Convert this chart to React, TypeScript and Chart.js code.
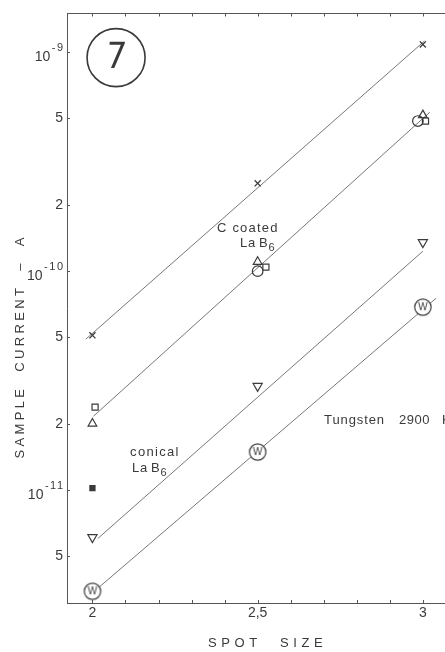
import React, { useEffect, useRef } from "react";
import { Chart, registerables } from "chart.js";

Chart.register(...registerables);

// ---- data ----
const spotSizes = [2, 2.5, 3];
const crossValues = [5.08e-11, 2.51e-10, 1.08e-9];
const coatedTriangleValues = [2.01e-11, 1.1e-10, 5.14e-10];
const coatedCircleX = [2.5, 2.985];
const coatedCircleValues = [9.97e-11, 4.83e-10];
const coatedSquareX = [2.008, 2.525, 3.008];
const coatedSquareValues = [2.39e-11, 1.04e-10, 4.83e-10];
const filledSquareX = [2];
const filledSquareValues = [1.02e-11];
const conicalValues = [6.08e-12, 2.98e-11, 1.35e-10];
const tungstenValues = [3.45e-12, 1.49e-11, 6.83e-11];

// fitted lines (end points)
const crossFitX = [1.98, 3.005];
const crossFitY = [4.88e-11, 1.12e-9];
const coatedFitX = [2.003, 3.021];
const coatedFitY = [2.17e-11, 5.3e-10];
const conicalFitX = [2.016, 3.0];
const conicalFitY = [6.0e-12, 1.23e-10];
const tungstenFitX = [2.02, 3.04];
const tungstenFitY = [3.6e-12, 7.5e-11];

// axes
const xMin = 1.923;
const xMax = 3.067;
const yMin = 3.05e-12;
const yMax = 1.503e-9;
const xMinorTicks = [2.0, 2.1, 2.2, 2.3, 2.4, 2.5, 2.6, 2.7, 2.8, 2.9, 3.0];
const xLabelTicks = [2, 2.5, 3];
const xLabelText = ["2", "2,5", "3"];
const yTickValues = [1e-9, 5e-10, 2e-10, 1e-10, 5e-11, 2e-11, 1e-11, 5e-12];
const yTickMantissa = ["10", "5", "2", "10", "5", "2", "10", "5"];
const yTickExponent = ["-9", "", "", "-10", "", "", "-11", ""];

// annotations (data coordinates)
const figureNumber = "7";
const figureNumberAt = [2.0715, 9.4e-10];
const coatedLabelAt = [2.377, 1.567e-10];
const coatedSubLabelAt = [2.4466, 1.338e-10];
const conicalLabelAt = [2.114, 1.486e-11];
const conicalSubLabelAt = [2.12, 1.256e-11];
const tungstenLabelAt = [2.701, 2.085e-11];
const xTitle = ["SPOT", "SIZE"];
const yTitle = "SAMPLE  CURRENT  \u2013  A";

const INK = "#3a3a3a";
const LINE = "#777777";
const AXIS = "#555555";
const FONT = "'Liberation Sans', Arial, Helvetica, sans-serif";

function pts(xs: number[], ys: number[]) {
  return xs.map((x, i) => ({ x, y: ys[i] }));
}

function makeWMarker(): HTMLCanvasElement {
  const c = document.createElement("canvas");
  c.width = 20;
  c.height = 20;
  const g = c.getContext("2d")!;
  g.fillStyle = "#ffffff";
  g.strokeStyle = INK;
  g.lineWidth = 1.2;
  g.beginPath();
  g.arc(10, 10, 8.2, 0, Math.PI * 2);
  g.fill();
  g.stroke();
  g.fillStyle = INK;
  g.font = `10px ${FONT}`;
  g.textAlign = "center";
  g.textBaseline = "middle";
  g.fillText("W", 10, 10.5);
  return c;
}

function spacedText(ctx: CanvasRenderingContext2D, text: string, x: number, y: number, spacing: number) {
  (ctx as any).letterSpacing = `${spacing}px`;
  ctx.fillText(text, x, y);
  (ctx as any).letterSpacing = "0px";
}

const decorations = {
  id: "decorations",
  afterDraw(chart: any) {
    const { ctx, chartArea: a, scales } = chart;
    const xs = scales.x;
    const ys = scales.y;
    ctx.save();
    ctx.strokeStyle = AXIS;
    ctx.lineWidth = 1;
    ctx.beginPath();
    ctx.moveTo(a.left, a.top + 0.5);
    ctx.lineTo(a.right, a.top + 0.5);
    for (const v of xMinorTicks) {
      const px = Math.round(xs.getPixelForValue(v)) + 0.5;
      ctx.moveTo(px, a.bottom);
      ctx.lineTo(px, a.bottom - 3);
      ctx.moveTo(px, a.top);
      ctx.lineTo(px, a.top + 3.5);
    }
    for (const v of yTickValues) {
      const py = Math.round(ys.getPixelForValue(v)) + 0.5;
      ctx.moveTo(a.left, py);
      ctx.lineTo(a.left + 3, py);
    }
    ctx.stroke();

    // y tick labels
    ctx.fillStyle = INK;
    ctx.textBaseline = "middle";
    ctx.textAlign = "right";
    yTickValues.forEach((v, i) => {
      const py = ys.getPixelForValue(v);
      const exp = yTickExponent[i];
      if (exp) {
        ctx.font = `11px ${FONT}`;
        (ctx as any).letterSpacing = "1.5px";
        const ew = ctx.measureText(exp).width;
        ctx.fillText(exp, a.left - 4 + 1.5, py - 4);
        (ctx as any).letterSpacing = "0px";
        ctx.font = `14px ${FONT}`;
        ctx.fillText(yTickMantissa[i], a.left - 4 - ew, py + 5);
      } else {
        ctx.font = `14px ${FONT}`;
        ctx.fillText(yTickMantissa[i], a.left - 4, py);
      }
    });

    // axis titles
    ctx.font = `13px ${FONT}`;
    ctx.textAlign = "left";
    spacedText(ctx, xTitle[0], 208, 643, 4.6);
    spacedText(ctx, xTitle[1], 280, 643, 4.6);

    ctx.save();
    ctx.translate(20, 348);
    ctx.rotate(-Math.PI / 2);
    ctx.textAlign = "center";
    ctx.font = `13px ${FONT}`;
    const plain = ctx.measureText(yTitle).width;
    const sp = (221 - plain) / (yTitle.length - 1);
    (ctx as any).letterSpacing = `${sp}px`;
    ctx.fillText(yTitle, sp / 2, 0);
    (ctx as any).letterSpacing = "0px";
    ctx.restore();

    // circled figure number
    const cx = xs.getPixelForValue(figureNumberAt[0]);
    const cy = ys.getPixelForValue(figureNumberAt[1]);
    ctx.beginPath();
    ctx.lineWidth = 1.6;
    ctx.strokeStyle = INK;
    ctx.arc(cx, cy, 29, 0, Math.PI * 2);
    ctx.stroke();
    ctx.font = `36px 'Liberation Sans Narrow', 'DejaVu Sans Condensed', ${FONT}`;
    ctx.textAlign = "center";
    ctx.textBaseline = "middle";
    ctx.save();
    ctx.translate(cx, cy + 1);
    ctx.transform(1, 0, -0.08, 1, 0, 0);
    ctx.fillText(figureNumber, 0, 0);
    ctx.restore();

    // series labels
    ctx.textAlign = "left";
    ctx.textBaseline = "middle";
    const label = (at: number[], text: string, sp: number) => {
      const px = xs.getPixelForValue(at[0]);
      const py = ys.getPixelForValue(at[1]);
      ctx.font = `13px ${FONT}`;
      spacedText(ctx, text, px, py, sp);
      return [px, py];
    };
    const sub = (at: number[]) => {
      const [px, py] = label(at, "La", 0.8);
      ctx.font = `13px ${FONT}`;
      spacedText(ctx, "B", px + 19, py, 0);
      ctx.font = `11px ${FONT}`;
      spacedText(ctx, "6", px + 28.5, py + 5, 0);
    };
    label(coatedLabelAt, "C coated", 1.2);
    sub(coatedSubLabelAt);
    label(conicalLabelAt, "conical", 1.3);
    sub(conicalSubLabelAt);
    const [tx, ty] = label(tungstenLabelAt, "Tungsten", 0.9);
    ctx.font = `13px ${FONT}`;
    spacedText(ctx, "2900", tx + 75, ty, 0.5);
    spacedText(ctx, "K", tx + 118, ty, 0);
    ctx.restore();
  },
};

export default function App() {
  const ref = useRef<HTMLCanvasElement>(null);

  useEffect(() => {
    if (!ref.current) return;
    const wMarker = makeWMarker();
    const lineDs = (xs: number[], ys: number[]) => ({
      type: "line" as const,
      data: pts(xs, ys),
      showLine: true,
      borderColor: LINE,
      borderWidth: 1,
      pointRadius: 0,
      fill: false,
    });
    const pointDs = (data: any[], style: any, radius: number, extra: any = {}) => ({
      type: "scatter" as const,
      data,
      showLine: false,
      pointStyle: style,
      pointRadius: radius,
      pointBorderColor: INK,
      pointBackgroundColor: "rgba(0,0,0,0)",
      pointBorderWidth: 1.2,
      ...extra,
    });

    const chart = new Chart(ref.current, {
      type: "scatter",
      data: {
        datasets: [
          pointDs(pts(spotSizes, crossValues), "crossRot", 4.3, { pointBorderWidth: 1.3 }),
          pointDs(pts(spotSizes, coatedTriangleValues), "triangle", 5),
          pointDs(pts(coatedCircleX, coatedCircleValues), "circle", 5.3),
          pointDs(pts(coatedSquareX, coatedSquareValues), "rect", 4.3),
          pointDs(pts(filledSquareX, filledSquareValues), "rect", 3.6, { pointBackgroundColor: INK }),
          pointDs(pts(spotSizes, conicalValues), "triangle", 5.3, { rotation: 180 }),
          pointDs(pts(spotSizes, tungstenValues), wMarker, 8),
          lineDs(crossFitX, crossFitY),
          lineDs(coatedFitX, coatedFitY),
          lineDs(conicalFitX, conicalFitY),
          lineDs(tungstenFitX, tungstenFitY),
        ] as any,
      },
      options: {
        animation: false,
        responsive: false,
        devicePixelRatio: 1,
        layout: { autoPadding: false, padding: { top: 13, right: 0, left: 0, bottom: 0 } },
        plugins: { legend: { display: false }, tooltip: { enabled: false } },
        scales: {
          x: {
            type: "linear",
            position: "bottom",
            min: xMin,
            max: xMax,
            afterBuildTicks: (s: any) => {
              s.ticks = xLabelTicks.map((v) => ({ value: v }));
            },
            afterFit: (s: any) => {
              s.height = 49;
              s.paddingLeft = 0;
              s.paddingRight = 0;
            },
            ticks: {
              autoSkip: false,
              maxRotation: 0,
              padding: 2,
              color: INK,
              font: { size: 14, family: FONT },
              callback: (v: any) => {
                const i = xLabelTicks.findIndex((t) => Math.abs(t - v) < 1e-9);
                return i >= 0 ? xLabelText[i] : "";
              },
            },
            grid: { display: false, drawTicks: false },
            border: { display: true, color: AXIS, width: 1 },
          },
          y: {
            type: "logarithmic",
            position: "left",
            min: yMin,
            max: yMax,
            afterBuildTicks: (s: any) => {
              s.ticks = yTickValues.map((v) => ({ value: v }));
            },
            afterFit: (s: any) => {
              s.width = 67;
              s.paddingTop = 0;
              s.paddingBottom = 0;
            },
            ticks: { display: false },
            grid: { display: false, drawTicks: false },
            border: { display: true, color: AXIS, width: 1 },
          },
        },
      } as any,
      plugins: [decorations],
    });
    return () => chart.destroy();
  }, []);

  return (
    <div style={{ position: "fixed", left: 0, top: 0, width: 445, height: 652, background: "#fff" }}>
      <canvas ref={ref} width={445} height={652} style={{ display: "block" }} />
    </div>
  );
}
